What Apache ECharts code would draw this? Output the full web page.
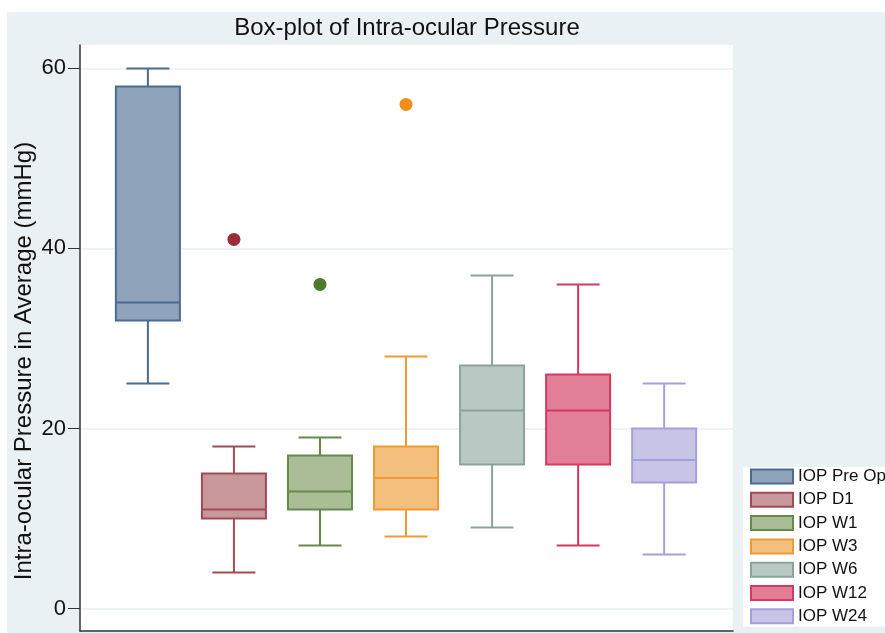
<!DOCTYPE html>
<html>
<head>
<meta charset="utf-8">
<script src="https://cdn.jsdelivr.net/npm/echarts@6/dist/echarts.min.js"></script>
<style>
  html, body { margin: 0; padding: 0; background: #ffffff; }
  #bg { position: absolute; left: 7px; top: 12px; width: 878px; height: 621px; background: #e9f1f4; }
  #chart { position: absolute; left: 0; top: 0; width: 885px; height: 633px; }
</style>
</head>
<body>
<div id="bg"></div>
<div id="chart"></div>
<script>
// ---- data ----
const categories = ['IOP Pre Op', 'IOP D1', 'IOP W1', 'IOP W3', 'IOP W6', 'IOP W12', 'IOP W24'];
const mins    = [25, 4, 7, 8, 9, 7, 6];
const q1s     = [32, 10, 11, 11, 16, 16, 14];
const medians = [34, 11, 13, 14.5, 22, 22, 16.5];
const q3s     = [58, 15, 17, 18, 27, 26, 20];
const maxs    = [60, 18, 19, 28, 37, 36, 25];
const outliers = [[], [41], [36], [56], [], [], []];
const yTicks = [0, 20, 40, 60];
const titleText = 'Box-plot of Intra-ocular Pressure';
const yTitle = 'Intra-ocular Pressure in Average (mmHg)';

// ---- styles ----
const fills   = ['#8ea3ba', '#c8979c', '#aabd97', '#f2bf7c', '#b8c9c3', '#e07f96', '#c8c4e6'];
const strokes = ['#4c6b8f', '#a24a55', '#66894c', '#f09a33', '#8ba39c', '#d43a5f', '#a59fde'];
const outlierColors = ['#4c6b8f', '#9b2d38', '#4e7a2c', '#ef8f1a', '#8ba39c', '#d43a5f', '#a59fde'];
const FONT = "'Liberation Sans', Arial, Helvetica, sans-serif";

const chart = echarts.init(document.getElementById('chart'), null, { renderer: 'canvas' });

const boxData = categories.map((c, i) => [i, mins[i], q1s[i], medians[i], q3s[i], maxs[i]]);

function renderItem(params, api) {
  const i = api.value(0);
  const pMin = api.coord([i, api.value(1)]);
  const pQ1 = api.coord([i, api.value(2)]);
  const pMed = api.coord([i, api.value(3)]);
  const pQ3 = api.coord([i, api.value(4)]);
  const pMax = api.coord([i, api.value(5)]);
  const x = pMed[0];
  const half = 32, cap = 21.5;
  const st = strokes[params.dataIndex], fl = fills[params.dataIndex];
  const ls = { stroke: st, lineWidth: 2 };
  return {
    type: 'group',
    children: [
      { type: 'line', shape: { x1: x, y1: pMax[1], x2: x, y2: pQ3[1] }, style: ls },
      { type: 'line', shape: { x1: x, y1: pQ1[1], x2: x, y2: pMin[1] }, style: ls },
      { type: 'line', shape: { x1: x - cap, y1: pMax[1], x2: x + cap, y2: pMax[1] }, style: ls },
      { type: 'line', shape: { x1: x - cap, y1: pMin[1], x2: x + cap, y2: pMin[1] }, style: ls },
      { type: 'rect', shape: { x: x - half, y: pQ3[1], width: 2 * half, height: pQ1[1] - pQ3[1] },
        style: { fill: fl, stroke: st, lineWidth: 2 } },
      { type: 'line', shape: { x1: x - half, y1: pMed[1], x2: x + half, y2: pMed[1] }, style: ls }
    ]
  };
}

const series = [{
  type: 'custom',
  name: 'boxes',
  renderItem: renderItem,
  data: boxData,
  encode: { x: 0, y: [1, 2, 3, 4, 5] },
  silent: true,
  z: 2
}];
categories.forEach((c, i) => {
  series.push({
    type: 'scatter',
    name: c,
    data: outliers[i].map(v => [i, v]),
    symbol: 'circle',
    symbolSize: 13,
    itemStyle: { color: outlierColors[i], opacity: 1 },
    z: 3
  });
});

chart.setOption({
  animation: false,
  backgroundColor: 'transparent',
  graphic: [
    { type: 'text', x: 407, y: 28, style: { text: titleText, font: '24px ' + FONT, fill: '#111', textAlign: 'center', textVerticalAlign: 'middle' } },
    { type: 'text', x: 24, y: 361, rotation: Math.PI / 2, style: { text: yTitle, font: '24px ' + FONT, fill: '#111', textAlign: 'center', textVerticalAlign: 'middle' } }
  ],
  grid: { left: 80, right: 152, top: 45, bottom: 2, show: true, backgroundColor: '#ffffff', borderWidth: 0 },
  xAxis: {
    type: 'value', min: -0.789, max: 6.80,
    axisLine: { show: true, onZero: false, lineStyle: { color: '#333', width: 1.5 } },
    axisTick: { show: false }, axisLabel: { show: false }, splitLine: { show: false }
  },
  yAxis: {
    type: 'value', min: -2.5, max: 62.6,
    axisLine: { show: true, onZero: false, lineStyle: { color: '#333', width: 1.5 } },
    axisTick: { show: true, customValues: yTicks, length: 12, lineStyle: { color: '#333', width: 1 } },
    axisLabel: { customValues: yTicks, fontSize: 22, color: '#111', margin: 14, fontFamily: FONT },
    splitLine: { show: true, lineStyle: { color: '#e8eff2', width: 1.5 } }
  },
  legend: {
    orient: 'vertical',
    left: 743, top: 467,
    padding: [1, 2, 2, 7],
    backgroundColor: '#ffffff',
    itemWidth: 42, itemHeight: 14, itemGap: 6.3,
    selectedMode: false,
    textStyle: { fontSize: 17, color: '#111', fontFamily: FONT },
    data: categories.map((c, i) => ({
      name: c, icon: 'rect',
      itemStyle: { color: fills[i], borderColor: strokes[i], borderWidth: 2 }
    }))
  },
  series: series
});
</script>
</body>
</html>
